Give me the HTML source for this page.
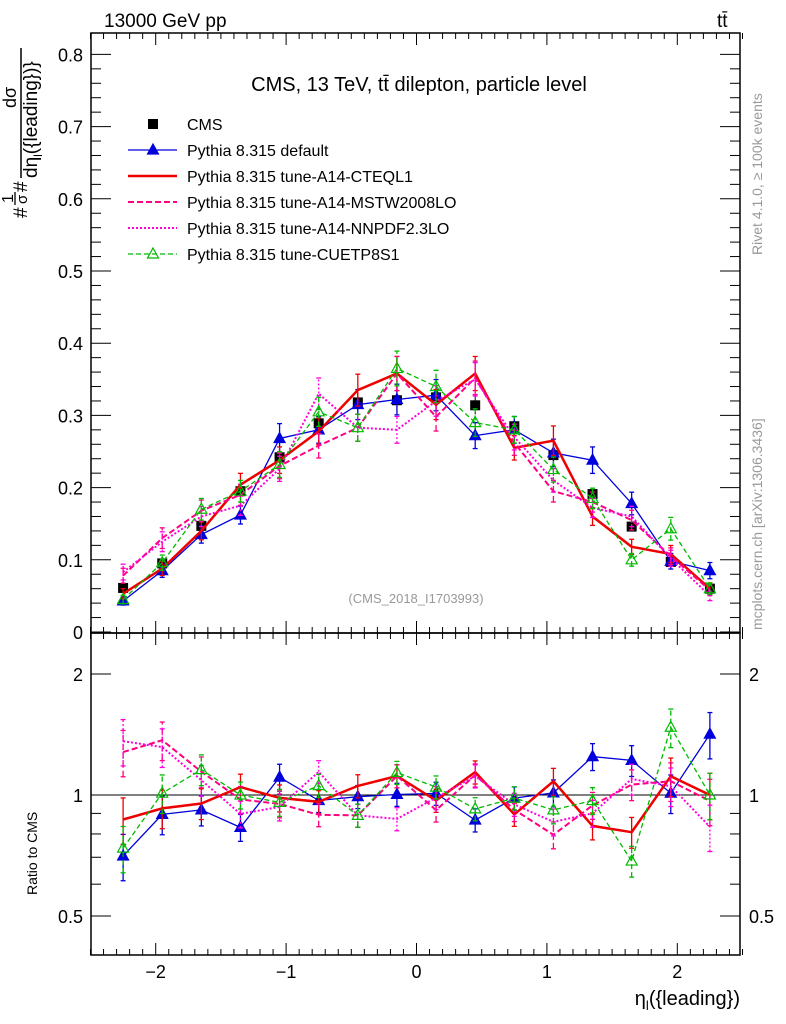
<!DOCTYPE html>
<html><head><meta charset="utf-8"><style>
body{margin:0;background:#fff;}
svg{display:block;font-family:"Liberation Sans",sans-serif;}
</style></head><body>
<svg id="c" width="786" height="1024" xmlns="http://www.w3.org/2000/svg">
<rect x="91" y="33" width="649" height="600" fill="none" stroke="#000" stroke-width="1.5"/>
<rect x="91" y="633" width="649" height="322" fill="none" stroke="#000" stroke-width="1.5"/>
<text x="104" y="27" font-size="19">13000 GeV pp</text>
<text x="717" y="27" font-size="19">tt̄</text>
<text x="419" y="91" font-size="20" text-anchor="middle">CMS, 13 TeV, tt̄ dilepton, particle level</text>
<text x="416" y="603" font-size="13" fill="#999" text-anchor="middle">(CMS_2018_I1703993)</text>
<text transform="translate(762,255) rotate(-90)" font-size="14" fill="#999">Rivet 4.1.0, ≥ 100k events</text>
<text transform="translate(762,630) rotate(-90)" font-size="14" fill="#999">mcplots.cern.ch [arXiv:1306.3436]</text>
<g transform="translate(20,218) rotate(-90)">
<text x="0" y="7" font-size="19">#</text>
<text x="15" y="-7" font-size="16">1</text><line x1="13" y1="-5" x2="26" y2="-5" stroke="#000" stroke-width="1.3"/><text x="14" y="7" font-size="15">σ</text>
<text x="26" y="7" font-size="19">#</text>
<text x="110" y="-4" font-size="18">dσ</text><line x1="40" y1="1" x2="170" y2="1" stroke="#000" stroke-width="1.5"/>
<text x="40" y="17" font-size="19">dη<tspan font-size="12" dy="5">l</tspan><tspan dy="-5">({leading})}</tspan></text>
</g>
<text transform="translate(37,895) rotate(-90)" font-size="14">Ratio to CMS</text>
<text x="740" y="1005" font-size="20" text-anchor="end">η<tspan font-size="13" dy="5">l</tspan><tspan dy="-5">({leading})</tspan></text>
<g id="axes"></g><g id="marks"></g><g id="legend"></g>
</svg>
<script>
const binCenters=[-2.25,-1.95,-1.65,-1.35,-1.05,-0.75,-0.45,-0.15,0.15,0.45,0.75,1.05,1.35,1.65,1.95,2.25];
const cmsValues=[0.061,0.095,0.147,0.195,0.242,0.289,0.318,0.321,0.325,0.314,0.285,0.245,0.191,0.146,0.097,0.060];
const defaultValues=[0.043,0.085,0.135,0.162,0.268,0.280,0.315,0.322,0.328,0.272,0.280,0.248,0.238,0.178,0.098,0.085];
const cteqValues=[0.053,0.088,0.140,0.204,0.238,0.278,0.335,0.358,0.315,0.358,0.255,0.265,0.160,0.118,0.108,0.060];
const mstwValues=[0.078,0.130,0.168,0.190,0.230,0.258,0.283,0.358,0.298,0.352,0.262,0.195,0.180,0.155,0.105,0.058];
const nnpdfValues=[0.083,0.125,0.160,0.175,0.226,0.330,0.283,0.280,0.320,0.350,0.270,0.210,0.172,0.160,0.102,0.050];
const cuetValues=[0.045,0.096,0.170,0.195,0.232,0.305,0.283,0.365,0.340,0.290,0.280,0.225,0.185,0.100,0.143,0.060];
const relErrors=[0.12,0.1,0.08,0.07,0.07,0.06,0.06,0.06,0.06,0.06,0.06,0.07,0.07,0.08,0.1,0.12];
const xTicks=[-2,-1,0,1,2];
const yTicks=[0,0.1,0.2,0.3,0.4,0.5,0.6,0.7,0.8];
const rTicks=[0.5,1,2];

const NS="http://www.w3.org/2000/svg";
const X=v=>416.5+v*130.4;
const Y=v=>632-v*722;
const R=r=>795-121*Math.log2(r);
function el(p,t,a){const e=document.createElementNS(NS,t);for(const k in a)e.setAttribute(k,a[k]);p.appendChild(e);return e;}
const ax=document.getElementById('axes'),mk=document.getElementById('marks'),lg=document.getElementById('legend');
for(let v=-2.5;v<=2.5001;v+=0.1){const big=Math.abs(v-Math.round(v))<1e-6;const L=big?12:6;const x=X(v);
 for(const [y0,y1] of [[633,633-L],[33,33+L],[955,955-L],[633,633+L]]){el(ax,'line',{x1:x,x2:x,y1:y0,y2:y1,stroke:'#000'});}}
xTicks.forEach(v=>{const t=el(ax,'text',{x:X(v),y:978,'font-size':18,'text-anchor':'middle'});t.textContent=v<0?'−'+Math.abs(v):v;

});
for(let v=0;v<=0.82;v+=0.02){const big=Math.abs(v*10-Math.round(v*10))<1e-6;const L=big?20:10;
 el(ax,'line',{x1:91,x2:91+L,y1:Y(v),y2:Y(v),stroke:'#000'});el(ax,'line',{x1:740,x2:740-L,y1:Y(v),y2:Y(v),stroke:'#000'});}
yTicks.forEach(v=>{const t=el(ax,'text',{x:83,y:Y(v)+7,'font-size':18,'text-anchor':'end'});t.textContent=v===0?'0':v.toFixed(1);

});
[0.5,0.6,0.7,0.8,0.9,1,2].forEach(r=>{const L=(r===0.5||r===1||r===2)?20:10;el(ax,'line',{x1:91,x2:91+L,y1:R(r),y2:R(r),stroke:'#000'});el(ax,'line',{x1:740,x2:740-L,y1:R(r),y2:R(r),stroke:'#000'});});
rTicks.forEach(r=>{const t=el(ax,'text',{x:83,y:R(r)+7,'font-size':18,'text-anchor':'end'});t.textContent=r;


const t2=el(ax,'text',{x:749,y:R(r)+7,'font-size':18});t2.textContent=r;

});
el(ax,'line',{x1:91,x2:740,y1:R(1),y2:R(1),stroke:'#000'});

const series=[
 {name:'default',vals:defaultValues,color:'#0000dd',w:1.3,dash:'',marker:'tri'},
 {name:'cteql1',vals:cteqValues,color:'#ee0000',w:2.5,dash:'',marker:''},
 {name:'mstw',vals:mstwValues,color:'#ff0080',w:2,dash:'6,3',marker:''},
 {name:'nnpdf',vals:nnpdfValues,color:'#ff00dd',w:2,dash:'2,2',marker:''},
 {name:'cuetp8s1',vals:cuetValues,color:'#00bb00',w:1.3,dash:'5,3',marker:'otri'}];
function tri(g,x,y,c,open){el(g,'path',{d:`M${x},${y-6}L${x+5.5},${y+4}L${x-5.5},${y+4}Z`,fill:open?'none':c,stroke:c,'stroke-width':1.2});}
function drawSeries(s,yf,valf){
 const g=el(mk,'g',{});
 
 
 const pts=binCenters.map((c,i)=>X(c)+','+yf(valf(i)).toFixed(1)).join(' ');
 el(g,'polyline',{points:pts,fill:'none',stroke:s.color,'stroke-width':s.w,'stroke-dasharray':s.dash});
 binCenters.forEach((c,i)=>{const v=valf(i),e=relErrors[i]*1.1;const x=X(c);
  el(g,'line',{x1:x,x2:x,y1:yf(v*(1-e)),y2:yf(v*(1+e)),stroke:s.color,'stroke-width':1.3,'stroke-dasharray':s.dash});
  el(g,'line',{x1:x-2.5,x2:x+2.5,y1:yf(v*(1-e)),y2:yf(v*(1-e)),stroke:s.color,'stroke-width':1.3});
  el(g,'line',{x1:x-2.5,x2:x+2.5,y1:yf(v*(1+e)),y2:yf(v*(1+e)),stroke:s.color,'stroke-width':1.3});
  if(s.marker==='tri')tri(g,x,yf(v),s.color,false);
  if(s.marker==='otri')tri(g,x,yf(v),s.color,true);});
}
const dg=el(mk,'g',{});


binCenters.forEach((c,i)=>{const v=cmsValues[i],x=X(c),y=Y(v);
 el(dg,'line',{x1:x,x2:x,y1:Y(v*0.96),y2:Y(v*1.04),stroke:'#000'});
 const r=el(dg,'rect',{x:x-5,y:y-5,width:10,height:10,fill:'#000'});
 
 });
series.forEach(s=>drawSeries(s,Y,i=>s.vals[i]));
series.forEach(s=>drawSeries(s,R,i=>s.vals[i]/cmsValues[i]));

const rows=[['CMS','#000','','','sq'],['Pythia 8.315 default','#0000dd','',1.3,'tri'],['Pythia 8.315 tune-A14-CTEQL1','#ee0000','',2.5,''],
['Pythia 8.315 tune-A14-MSTW2008LO','#ff0080','6,3',2,''],['Pythia 8.315 tune-A14-NNPDF2.3LO','#ff00dd','2,2',2,''],['Pythia 8.315 tune-CUETP8S1','#00bb00','5,3',1.3,'otri']];
rows.forEach((r,i)=>{const y=124+i*26;const g=el(lg,'g',{});
 
 
 if(r[4]==='sq')el(g,'rect',{x:148,y:y-5,width:10,height:10,fill:'#000'});
 else el(g,'line',{x1:128,x2:177,y1:y,y2:y,stroke:r[1],'stroke-width':r[3],'stroke-dasharray':r[2]});
 if(r[4]==='tri')tri(g,153,y,r[1],false);
 if(r[4]==='otri')tri(g,153,y,r[1],true);
 const t=el(g,'text',{x:187,y:y+6,'font-size':16});t.textContent=r[0];});
</script>
</body></html>
